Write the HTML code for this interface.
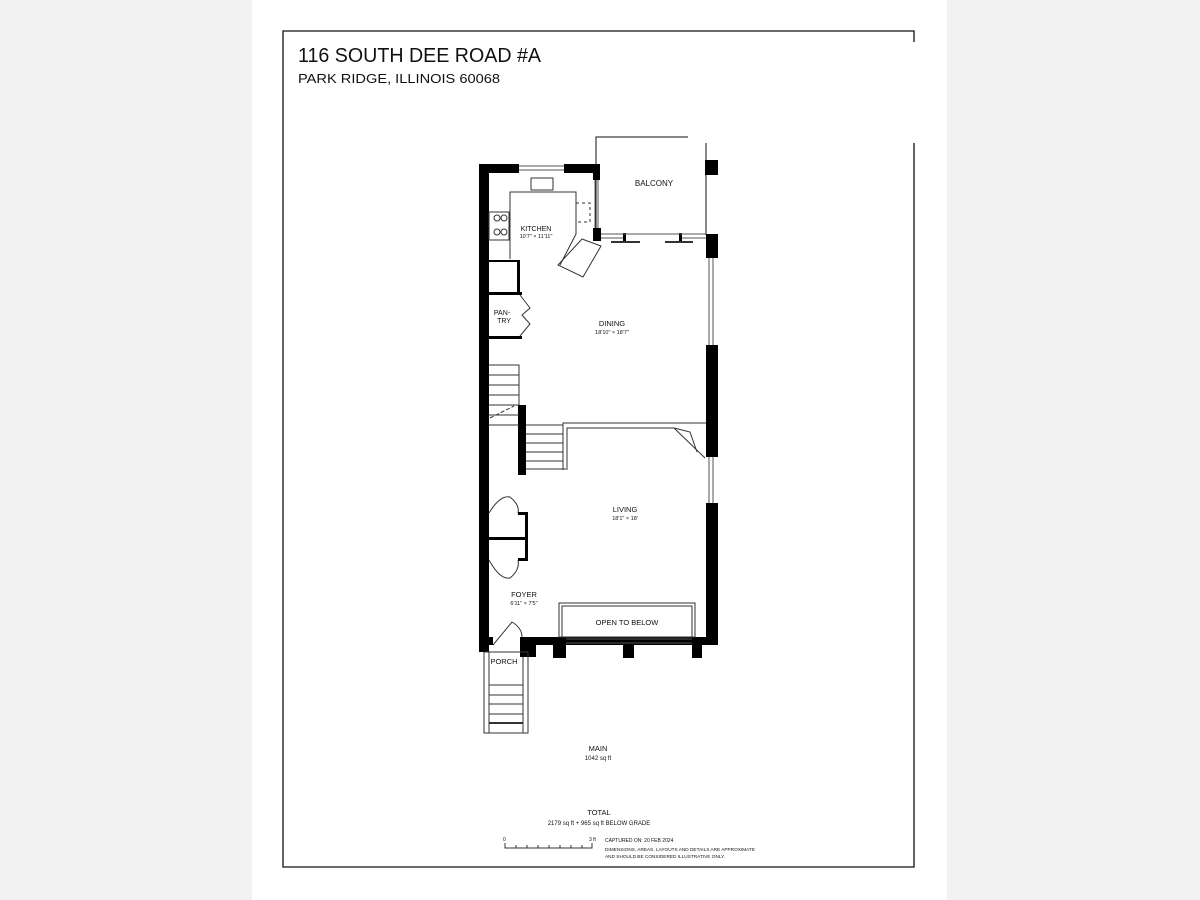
<!DOCTYPE html>
<html><head><meta charset="utf-8"><style>
html,body{margin:0;padding:0;background:#f2f2f2;}
svg{display:block;}
text{font-family:"Liberation Sans",sans-serif;fill:#111;}
</style></head><body>
<svg width="1200" height="900" viewBox="0 0 1200 900" xmlns="http://www.w3.org/2000/svg">
<rect x="0" y="0" width="1200" height="900" fill="#f2f2f2"/>
<rect x="252" y="0" width="695" height="900" fill="#fff"/>
<!-- border -->
<g stroke="#111" stroke-width="1.3" fill="none">
<polyline points="914,42 914,31 283,31 283,867 914,867 914,143"/>
</g>
<text x="298" y="62" font-size="20" textLength="243" lengthAdjust="spacingAndGlyphs">116 SOUTH DEE ROAD #A</text>
<text x="298" y="83" font-size="13" textLength="202" lengthAdjust="spacingAndGlyphs">PARK RIDGE, ILLINOIS 60068</text>

<!-- balcony -->
<g stroke="#111" stroke-width="1" fill="none">
<polyline points="596,233 596,137 688,137"/>
<line x1="706" y1="143" x2="706" y2="235"/>
</g>
<rect x="705" y="160" width="13" height="15" fill="#000"/>
<text x="654" y="186" font-size="8" text-anchor="middle">BALCONY</text>

<!-- outer walls -->
<g fill="#000">
<rect x="479" y="164" width="10" height="488"/>
<rect x="479" y="164" width="40" height="9"/>
<rect x="564" y="164" width="36" height="9"/>
<rect x="593" y="164" width="7" height="16"/>
<rect x="593" y="228" width="8" height="13"/>
<rect x="706" y="234" width="12" height="24"/>
<rect x="706" y="345" width="12" height="112"/>
<rect x="706" y="503" width="12" height="142"/>
<rect x="520" y="637" width="198" height="8"/>
<rect x="520" y="637" width="16" height="20"/>
<rect x="553" y="637" width="13" height="21"/>
<rect x="623" y="637" width="11" height="21"/>
<rect x="692" y="637" width="10" height="21"/>
<rect x="489" y="637" width="4" height="8"/>
<rect x="623" y="233" width="3" height="8"/>
<rect x="679" y="233" width="3" height="8"/>
<rect x="518" y="405" width="8" height="70"/>
<rect x="706" y="423" width="10" height="4"/>
</g>
<!-- windows -->
<g stroke="#555" stroke-width="1" fill="none">
<line x1="519" y1="166" x2="564" y2="166"/><line x1="519" y1="170" x2="564" y2="170"/>
<line x1="595" y1="180" x2="595" y2="228"/><line x1="598" y1="180" x2="598" y2="228"/>
<line x1="601" y1="234" x2="706" y2="234"/><line x1="601" y1="238" x2="623" y2="238"/><line x1="682" y1="238" x2="706" y2="238"/>
<line x1="709" y1="258" x2="709" y2="345"/><line x1="713" y1="258" x2="713" y2="345"/>
<line x1="709" y1="457" x2="709" y2="503"/><line x1="713" y1="457" x2="713" y2="503"/>
<line x1="566" y1="639" x2="692" y2="639"/><line x1="566" y1="643" x2="692" y2="643"/>
</g>
<g stroke="#333" stroke-width="2" fill="none">
<line x1="611" y1="242" x2="640" y2="242"/><line x1="665" y1="242" x2="693" y2="242"/>
</g>
<!-- kitchen -->
<g stroke="#333" stroke-width="1" fill="none">
<polyline points="510,259 510,192 576,192 576,234 560,265"/>
<polygon points="582,239 601,246 583,277 558,265"/>
<rect x="531" y="178" width="22" height="12"/>
<polyline points="576,203 590,203 590,222 576,222" stroke-dasharray="3,3"/>
<rect x="489" y="212" width="20" height="28"/>
<circle cx="497" cy="218" r="3"/><circle cx="504" cy="218" r="3"/><circle cx="497" cy="232" r="3"/><circle cx="504" cy="232" r="3"/>
</g>
<g fill="#000"><rect x="489" y="260" width="30" height="2"/><rect x="517" y="260" width="3" height="33"/>
<rect x="489" y="292" width="33" height="3"/><rect x="489" y="336" width="33" height="3"/></g>
<path d="M520,295 L530,308 L522,315 L530,324 L520,336" stroke="#333" fill="none"/>
<text x="536" y="231" font-size="7" text-anchor="middle">KITCHEN</text>
<text x="536" y="238" font-size="5.5" text-anchor="middle">10'7" × 11'11"</text>
<text x="502" y="315" font-size="7" text-anchor="middle">PAN-</text>
<text x="504" y="323" font-size="7" text-anchor="middle">TRY</text>
<text x="612" y="326" font-size="7.5" text-anchor="middle">DINING</text>
<text x="612" y="334" font-size="5.5" text-anchor="middle">18'10" × 18'7"</text>

<!-- stairs -->
<g stroke="#333" stroke-width="1" fill="none">
<polyline points="489,365 519,365 519,405"/>
<line x1="489" y1="375" x2="519" y2="375"/><line x1="489" y1="385" x2="519" y2="385"/><line x1="489" y1="395" x2="519" y2="395"/><line x1="489" y1="405" x2="519" y2="405"/><line x1="489" y1="415" x2="519" y2="415"/><line x1="489" y1="425" x2="519" y2="425"/>
<line x1="490" y1="418" x2="514" y2="406" stroke-dasharray="4,2"/>
<line x1="526" y1="425" x2="563" y2="425"/><line x1="526" y1="434" x2="563" y2="434"/><line x1="526" y1="443" x2="563" y2="443"/><line x1="526" y1="452" x2="563" y2="452"/><line x1="526" y1="461" x2="563" y2="461"/><line x1="526" y1="469" x2="566" y2="469"/>
<polyline points="563,470 563,423 706,423"/>
<polyline points="567,470 567,428 674,428 705,458"/>
<polyline points="674,428 690,432 697,452"/>
</g>
<!-- living / foyer -->
<g stroke="#333" stroke-width="1" fill="none">
<path d="M489,513 Q500,495 510,497 Q520,505 518,513"/>
<path d="M489,560 Q500,580 510,578 Q520,570 518,560"/>
<path d="M493,645 L512,622 Q522,628 522,637"/>
<rect x="559" y="603" width="136" height="34"/>
<rect x="562" y="606" width="130" height="31"/>
</g>
<g fill="#000"><rect x="518" y="512" width="10" height="3"/><rect x="525" y="512" width="3" height="48"/><rect x="489" y="537" width="38" height="3"/><rect x="518" y="558" width="10" height="3"/></g>
<text x="625" y="512" font-size="7.5" text-anchor="middle">LIVING</text>
<text x="625" y="520" font-size="5.5" text-anchor="middle">18'1" × 18'</text>
<text x="524" y="597" font-size="7.5" text-anchor="middle">FOYER</text>
<text x="524" y="605" font-size="5.5" text-anchor="middle">6'11" × 7'5"</text>
<text x="627" y="625" font-size="7.5" text-anchor="middle">OPEN TO BELOW</text>

<!-- porch -->
<g stroke="#333" stroke-width="1" fill="none">
<rect x="484" y="652" width="44" height="81"/>
<line x1="489" y1="652" x2="489" y2="733"/><line x1="523" y1="657" x2="523" y2="733"/>
<line x1="489" y1="685" x2="523" y2="685"/><line x1="489" y1="695" x2="523" y2="695"/><line x1="489" y1="704" x2="523" y2="704"/><line x1="489" y1="714" x2="523" y2="714"/><line x1="489" y1="723" x2="523" y2="723" stroke-width="2"/>
</g>
<text x="504" y="664" font-size="7.5" text-anchor="middle">PORCH</text>

<text x="598" y="751" font-size="7.5" text-anchor="middle">MAIN</text>
<text x="598" y="760" font-size="6" text-anchor="middle">1042 sq ft</text>
<text x="599" y="815" font-size="7.5" text-anchor="middle">TOTAL</text>
<text x="599" y="825" font-size="6" text-anchor="middle">2179 sq ft + 965 sq ft BELOW GRADE</text>
<!-- scale -->
<g stroke="#333" stroke-width="1" fill="none">
<polyline points="505,843 505,848 592,848 592,843"/>
<line x1="516" y1="845" x2="516" y2="848"/><line x1="527" y1="845" x2="527" y2="848"/><line x1="538" y1="845" x2="538" y2="848"/><line x1="549" y1="845" x2="549" y2="848"/><line x1="560" y1="845" x2="560" y2="848"/><line x1="571" y1="845" x2="571" y2="848"/><line x1="582" y1="845" x2="582" y2="848"/>
</g>
<text x="503" y="841" font-size="5">0</text>
<text x="589" y="841" font-size="5">3 ft</text>
<text x="605" y="842" font-size="5">CAPTURED ON: 20 FEB 2024</text>
<text x="605" y="851" font-size="4.5" textLength="150" lengthAdjust="spacingAndGlyphs">DIMENSIONS, AREAS, LAYOUTS AND DETAILS ARE APPROXIMATE</text>
<text x="605" y="858" font-size="4.5" textLength="120" lengthAdjust="spacingAndGlyphs">AND SHOULD BE CONSIDERED ILLUSTRATIVE ONLY.</text>
</svg>
</body></html>
